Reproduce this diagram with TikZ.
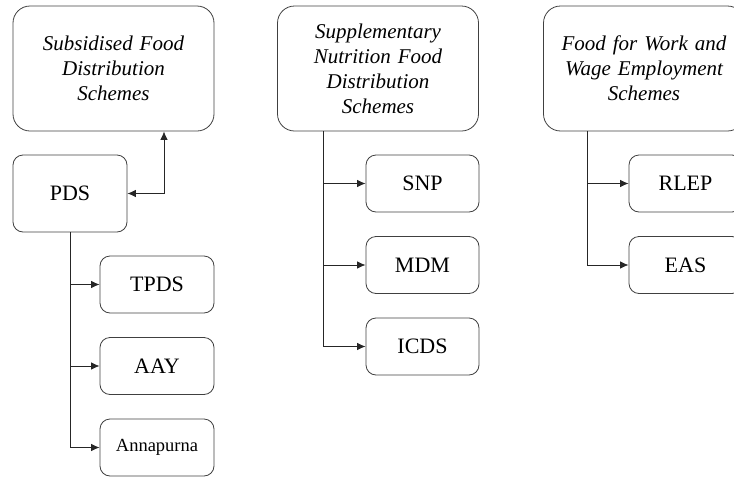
\documentclass[tikz,border=0pt]{standalone}
\usepackage{fontspec}
\setmainfont{Liberation Serif}
\usetikzlibrary{arrows.meta}
\tikzset{
  head/.style={draw=black!75, line width=0.8pt, rounded corners=17pt, minimum width=201pt, minimum height=125pt, align=center, font=\fontsize{21}{25}\selectfont\itshape, inner sep=2pt, text width=196pt},
  leaf/.style={draw=black!75, line width=0.8pt, rounded corners=10pt, minimum width=114pt, minimum height=57pt, align=center, font=\fontsize{22}{26}\selectfont, inner sep=2pt},
  tip/.tip={Latex[length=8.5pt,width=7.5pt]},
  conn/.style={draw=black!85, line width=0.8pt, -tip},
}
\begin{document}
\begin{tikzpicture}[x=1pt,y=1pt]
\useasboundingbox (0,0) rectangle (734,-477);
\clip (0,0) rectangle (734,-477);
% column 1
\node[head] (h1) at (113.5,-68.5) {Subsidised Food\\Distribution\\Schemes};
\node[leaf, minimum height=77pt] (pds) at (70,-193.5) {PDS};
\node[leaf] (tpds) at (157,-284.5) {TPDS};
\node[leaf] (aay) at (157,-366) {AAY};
\node[leaf, font=\fontsize{18.5}{22}\selectfont] (ann) at (157,-447.5) {Annapurna};
% column 2
\node[head] (h2) at (378,-68.5) {Supplementary\\Nutrition Food\\Distribution\\Schemes};
\node[leaf, minimum width=113pt] (snp) at (422.5,-183.5) {SNP};
\node[leaf, minimum width=113pt] (mdm) at (422.5,-265) {MDM};
\node[leaf, minimum width=113pt] (icds) at (422.5,-346.5) {ICDS};
% column 3
\node[head] (h3) at (644,-68.5) {Food for Work and\\Wage Employment\\Schemes};
\node[leaf, minimum width=113pt] (rlep) at (685.5,-183.5) {RLEP};
\node[leaf, minimum width=113pt] (eas) at (685.5,-265) {EAS};
% connectors
\draw[conn, tip-tip] (pds.east) -| ([xshift=50.5pt]h1.south);
\draw[conn] (pds.south) |- (tpds.west);
\draw[conn] (pds.south) |- (aay.west);
\draw[conn] (pds.south) |- (ann.west);
\draw[conn] ([xshift=-55pt]h2.south) |- (snp.west);
\draw[conn] ([xshift=-55pt]h2.south) |- (mdm.west);
\draw[conn] ([xshift=-55pt]h2.south) |- (icds.west);
\draw[conn] ([xshift=-57pt]h3.south) |- (rlep.west);
\draw[conn] ([xshift=-57pt]h3.south) |- (eas.west);
\end{tikzpicture}
\end{document}
